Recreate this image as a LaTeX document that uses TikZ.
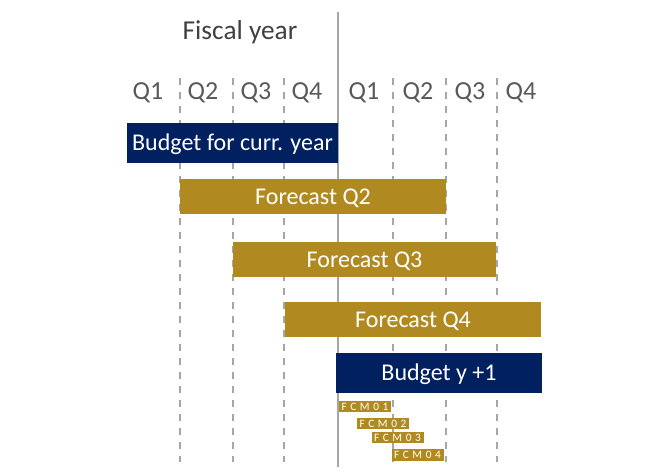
\documentclass[tikz,border=0pt]{standalone}
\usepackage{fontspec}
\setmainfont{Carlito}
\usepackage{xcolor}
\definecolor{Navy}{RGB}{0,32,96}
\definecolor{Gold}{RGB}{176,138,33}
\definecolor{Grid}{RGB}{166,166,166}
\definecolor{Head}{RGB}{64,64,64}
\definecolor{Quarter}{RGB}{89,89,89}
\usepackage{tikz}
\tikzstyle{Bar}=[rectangle,inner sep=0pt,text=white,text height=11.3pt,
text depth=0pt,font=\fontsize{18}{18}\selectfont]
\tikzstyle{Fcst}=[Bar,fill=Gold,minimum height=26.25pt]
\tikzstyle{Budg}=[Bar,fill=Navy,minimum height=30pt]
\tikzstyle{Fcm}=[Bar,fill=Gold,minimum width=39pt,minimum height=8.5pt,
text height=5.4pt,font=\fontsize{8.5}{8.5}\selectfont\addfontfeature{LetterSpace=32}]
\tikzstyle{Qlab}=[anchor=base,inner sep=0pt,text=Quarter,
font=\fontsize{19.5}{20}\selectfont]
\tikzstyle{Tick}=[draw=Grid,line width=1.5pt,dash pattern=on 5.5pt off 5pt]

\begin{document}
\begin{tikzpicture}[x=0.75pt,y=-0.75pt]
        \useasboundingbox(0,0)rectangle(658,470);
        % quarter lines
        \foreach \x in {180,233,284,393,446,497}
            \draw[Tick](\x,78)--(\x,462);
        \draw[draw=Grid,line width=1.5pt](338,12)--(338,467);
        % headings
        \node[anchor=base,inner sep=0pt,text=Head,
            font=\fontsize{20.5}{21}\selectfont](fy)at(240,40){Fiscal year};
        \node[Qlab](q1)at(148,100){Q1};
        \node[Qlab](q2)at(203,100){Q2};
        \node[Qlab](q3)at(256,100){Q3};
        \node[Qlab](q4)at(307,100){Q4};
        \node[Qlab](n1)at(364,100){Q1};
        \node[Qlab](n2)at(418,100){Q2};
        \node[Qlab](n3)at(470,100){Q3};
        \node[Qlab](n4)at(521,100){Q4};
        % bars
        \node[Budg,minimum width=158.25pt](b0)at(232.5,143){Budget for curr. year};
        \node[Fcst,minimum width=199.5pt](f2)at(313,196.5){Forecast Q2};
        \node[Fcst,minimum width=197.25pt](f3)at(364.5,259.5){Forecast Q3};
        \node[Fcst,minimum width=192pt](f4)at(413,320){Forecast Q4};
        \node[Budg,minimum width=154.5pt](b1)at(439,373){Budget y +1};
        \node[Fcm](m1)at(365,406.5){FCM01};
        \node[Fcm](m2)at(383,423.5){FCM02};
        \node[Fcm](m3)at(397.5,437.5){FCM03};
        \node[Fcm](m4)at(417.5,455){FCM04};
    \end{tikzpicture}
\end{document}
